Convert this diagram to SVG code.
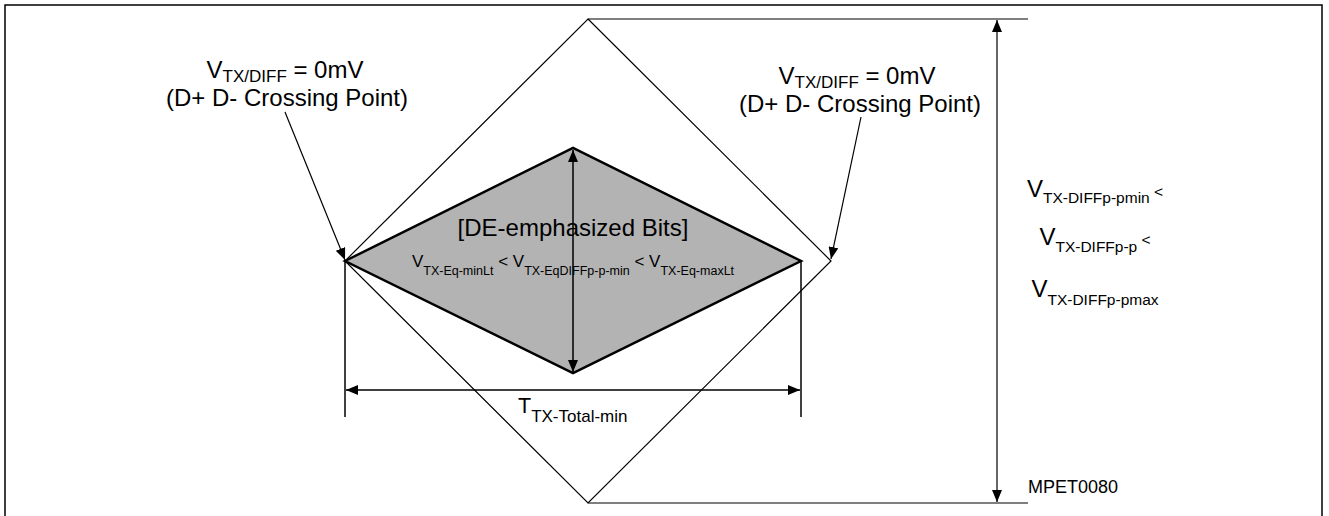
<svg xmlns="http://www.w3.org/2000/svg" width="1329" height="516" viewBox="0 0 1329 516">
<style>
text{font-family:"Liberation Sans",Arial,sans-serif;fill:#000}
.thin{fill:none;stroke:#000;stroke-width:1.2}
.dim{fill:none;stroke:#000;stroke-width:1.5}
.big{font-size:24px}
</style>
<defs>
<marker id="ah" viewBox="0 0 12 10" refX="12" refY="5" markerWidth="12" markerHeight="10" markerUnits="userSpaceOnUse" orient="auto-start-reverse">
<path d="M0,0 L12,5 L0,10 Z" fill="#000"/>
</marker>
</defs>
<rect x="5" y="5" width="1317" height="515" fill="#fff" stroke="#000" stroke-width="1.5"/>

<g id="eye-outer">
<path class="thin" d="M588,19 L831,261 L588,503 L345,261 Z"/>
<line class="thin" x1="588" y1="19" x2="1028" y2="19"/>
<line class="thin" x1="588" y1="503" x2="1028" y2="503"/>
</g>

<g id="eye-inner">
<path d="M345,261 L573,148 L801,261 L573,373 Z" fill="#b3b3b3" stroke="#000" stroke-width="2.5" stroke-linejoin="miter"/>
</g>

<g id="connectors">
<line class="dim" x1="573" y1="150" x2="573" y2="372" marker-start="url(#ah)" marker-end="url(#ah)"/>
<line class="dim" x1="345" y1="261" x2="345" y2="417"/>
<line class="dim" x1="801" y1="261" x2="801" y2="417"/>
<line class="dim" x1="346" y1="390" x2="800" y2="390" marker-start="url(#ah)" marker-end="url(#ah)"/>
<line x1="997" y1="20" x2="997" y2="502" stroke="#666" stroke-width="2" marker-start="url(#ah)" marker-end="url(#ah)"/>
<line class="thin" x1="285" y1="112" x2="345" y2="260" marker-end="url(#ah)"/>
<line class="thin" x1="861" y1="117" x2="831" y2="259" marker-end="url(#ah)"/>
</g>

<g id="label-left">
<text class="big" x="285" y="78" text-anchor="middle">V<tspan font-size="17" dy="4">TX/DIFF</tspan><tspan dy="-4"> = 0mV</tspan></text>
<text class="big" x="287" y="106" text-anchor="middle">(D+ D- Crossing Point)</text>
</g>

<g id="label-right">
<text class="big" x="857" y="84" text-anchor="middle">V<tspan font-size="17" dy="4">TX/DIFF</tspan><tspan dy="-4"> = 0mV</tspan></text>
<text class="big" x="860" y="112" text-anchor="middle">(D+ D- Crossing Point)</text>
</g>

<g id="label-de">
<text class="big" x="573" y="236" text-anchor="middle">[DE-emphasized Bits]</text>
<text x="573" y="267" text-anchor="middle" font-size="17">V<tspan font-size="12.5" dy="8">TX-Eq-minLt</tspan><tspan dy="-8"> &lt; V</tspan><tspan font-size="12.5" dy="8">TX-EqDIFFp-p-min</tspan><tspan dy="-8"> &lt; V</tspan><tspan font-size="12.5" dy="8">TX-Eq-maxLt</tspan></text>
</g>

<g id="label-ttotal">
<text x="518" y="413" font-size="21.5">T<tspan font-size="17" dy="9">TX-Total-min</tspan></text>
</g>

<g id="label-vdiff">
<text class="big" x="1095" y="197" text-anchor="middle">V<tspan font-size="15.5" dy="6">TX-DIFFp-pmin</tspan><tspan font-size="15.5" dy="-6"> &lt;</tspan></text>
<text class="big" x="1095" y="245" text-anchor="middle">V<tspan font-size="15.5" dy="7">TX-DIFFp-p</tspan><tspan font-size="15.5" dy="-7"> &lt;</tspan></text>
<text class="big" x="1095" y="297" text-anchor="middle">V<tspan font-size="15.5" dy="8">TX-DIFFp-pmax</tspan></text>
</g>

<g id="label-id">
<text x="1028" y="493" font-size="18">MPET0080</text>
</g>
</svg>
